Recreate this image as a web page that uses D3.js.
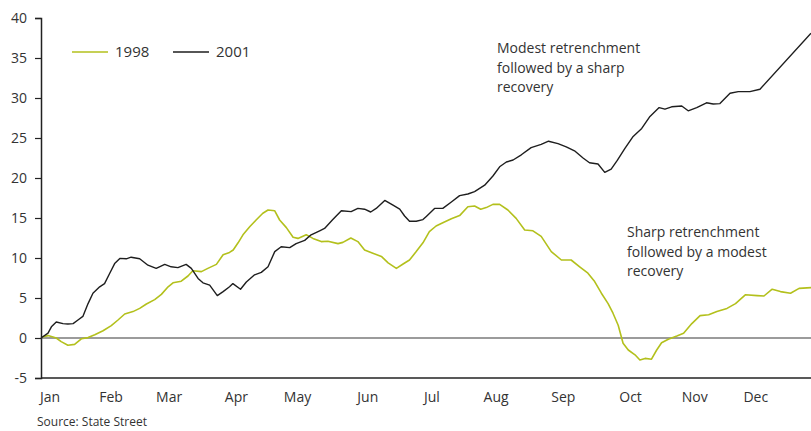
<!DOCTYPE html>
<html>
<head>
<meta charset="utf-8">
<script src="https://cdn.jsdelivr.net/npm/d3@7"></script>
<style>
  html, body { margin: 0; padding: 0; background: #fff; }
  svg { display: block; }
  text { font-family: "Open Sans", "DejaVu Sans", sans-serif; fill: #333; }
</style>
</head>
<body>
<svg id="chart" width="811" height="431"></svg>
<script>
// Cumulative return paths, trading day index within the year
const months = ["Jan", "Feb", "Mar", "Apr", "May", "Jun", "Jul", "Aug", "Sep", "Oct", "Nov", "Dec"];
const monthStartDay = [0, 20, 39, 61, 81, 104, 125, 146, 168, 190, 211, 231];
const yTicks = [-5, 0, 5, 10, 15, 20, 25, 30, 35, 40];

const day1998 = [0, 2.3, 5.0, 6.6, 8.8, 11.0, 13.2, 15.4, 17.6, 20.3, 23.0, 25.2, 27.4, 30.1, 32.3, 34.5,
  37.2, 39.4, 41.6, 43.2, 45.9, 48.1, 49.7, 52.5, 54.6, 57.4, 59.6, 61.7, 62.9, 64.5, 66.1, 68.3, 70.4,
  72.6, 74.3, 76.5, 78.1, 80.3, 82.5, 84.1, 86.8, 89.0, 91.7, 93.9, 97.2, 98.8, 101.4, 103.7, 105.9,
  108.6, 111.4, 113.6, 116.3, 118.5, 120.6, 122.8, 125.0, 127.1, 129.3, 131.5, 134.3, 137.0, 139.7,
  141.9, 143.9, 145.7, 147.9, 150.1, 152.8, 155.5, 158.3, 161.0, 163.7, 167.0, 170.3, 173.5, 176.3,
  179.0, 181.2, 183.4, 185.6, 187.2, 188.9, 190.5, 192.2, 194.4, 196.0, 197.7, 199.8, 201.5, 203.1,
  205.3, 208.1, 210.3, 213.0, 215.7, 218.5, 221.2, 224.5, 227.3, 230.5, 234.4, 236.6, 239.3, 242.0,
  245.3, 248.1, 252];
const value1998 = [0.1, 0.3, 0.0, -0.45, -0.9, -0.8, -0.1, 0.05, 0.4, 0.9, 1.55, 2.25, 3.0, 3.3, 3.7, 4.25,
  4.8, 5.45, 6.4, 6.9, 7.1, 7.75, 8.4, 8.3, 8.7, 9.2, 10.4, 10.7, 11.0, 11.9, 12.9, 13.9, 14.75,
  15.6, 16.0, 15.9, 14.75, 13.8, 12.6, 12.45, 12.9, 12.45, 12.05, 12.1, 11.8, 11.95, 12.5, 12.05, 11.0,
  10.6, 10.2, 9.4, 8.7, 9.25, 9.75, 10.8, 11.9, 13.3, 14.0, 14.4, 14.9, 15.3, 16.4,
  16.5, 16.1, 16.3, 16.7, 16.7, 16.0, 14.95, 13.5, 13.4, 12.7, 10.8, 9.75, 9.75, 8.9,
  8.1, 7.05, 5.6, 4.3, 3.1, 1.6, -0.65, -1.5, -2.1, -2.75, -2.55, -2.65, -1.5, -0.6,
  -0.15, 0.25, 0.6, 1.8, 2.8, 2.9, 3.3, 3.7, 4.3, 5.4, 5.3, 5.25, 6.1, 5.8,
  5.6, 6.2, 6.3];

const day2001 = [0, 2.3, 3.4, 5.0, 7.2, 8.8, 10.5, 12.1, 13.7, 15.4, 17.0, 19.2, 20.8, 22.5, 24.1, 25.8,
  27.9, 29.5, 32.3, 35.0, 37.7, 40.5, 42.6, 44.8, 47.5, 49.2, 51.4, 53.0, 55.2, 57.7, 59.6, 61.7, 62.8,
  65.3, 67.2, 69.9, 72.1, 74.3, 76.5, 78.6, 81.4, 83.5, 86.3, 88.4, 91.2, 92.8, 95.5, 98.3, 101.5,
  103.7, 105.9, 107.9, 109.7, 112.5, 115.2, 117.4, 119.0, 120.6, 122.8, 125.0, 126.1, 128.8, 131.5,
  134.3, 137.0, 139.7, 141.9, 145.2, 147.9, 150.1, 152.3, 154.5, 157.2, 160.4, 163.7, 166.1, 169.2,
  171.9, 174.6, 177.4, 179.5, 182.3, 184.5, 186.6, 188.6, 191.1, 193.8, 196.6, 199.3, 202.3, 204.2,
  206.4, 209.7, 211.8, 214.6, 217.8, 220.0, 222.2, 225.5, 228.2, 232.0, 235.3, 252];
const value2001 = [0, 0.6, 1.4, 2.0, 1.8, 1.75, 1.8, 2.25, 2.7, 4.3, 5.6, 6.4, 6.8, 8.1, 9.3, 9.95,
  9.9, 10.1, 9.9, 9.1, 8.7, 9.2, 8.9, 8.8, 9.2, 8.7, 7.45, 6.9, 6.6, 5.3, 5.8, 6.4, 6.8,
  6.1, 7.0, 7.9, 8.2, 8.9, 10.8, 11.4, 11.3, 11.8, 12.2, 12.9, 13.4, 13.7, 14.8, 15.9, 15.8,
  16.2, 16.1, 15.75, 16.2, 17.2, 16.6, 16.1, 15.25, 14.6, 14.6, 14.8, 15.2, 16.2, 16.2,
  17.0, 17.8, 18.0, 18.3, 19.1, 20.25, 21.4, 22.0, 22.25, 22.9, 23.8, 24.2, 24.6, 24.3,
  23.9, 23.4, 22.5, 21.9, 21.75, 20.7, 21.1, 22.2, 23.7, 25.2, 26.2, 27.7, 28.8, 28.6,
  28.9, 29.0, 28.4, 28.8, 29.4, 29.25, 29.3, 30.6, 30.8, 30.8, 31.1, 38.1];

const seriesNames = ["1998", "2001"];
const seriesColors = ["#b3c01c", "#1e1e1e"];

const svg = d3.select("#chart");
const margin = { top: 18, right: 0, bottom: 53, left: 41 };
const W = 811, H = 431;

const x = d3.scaleLinear().domain([0, 252]).range([margin.left, W - margin.right]);
const y = d3.scaleLinear().domain([-5, 40]).range([H - margin.bottom, margin.top]);

// zero reference line
svg.append("line")
  .attr("x1", x(0)).attr("x2", W)
  .attr("y1", y(0)).attr("y2", y(0))
  .attr("stroke", "#7a7a7a").attr("stroke-width", 1.3);

// lines
const line = d3.line().x(d => x(d[0])).y(d => y(d[1]));
const data1998 = day1998.map((d, i) => [d, value1998[i]]);
const data2001 = day2001.map((d, i) => [d, value2001[i]]);

svg.append("path").datum(data1998)
  .attr("fill", "none").attr("stroke", seriesColors[0]).attr("stroke-width", 1.6)
  .attr("stroke-linejoin", "round").attr("d", line);
svg.append("path").datum(data2001)
  .attr("fill", "none").attr("stroke", seriesColors[1]).attr("stroke-width", 1.4)
  .attr("stroke-linejoin", "round").attr("d", line);

// y axis (plain hyphen for negatives)
const yAxis = d3.axisLeft(y).tickValues(yTicks).tickSize(6).tickPadding(8).tickFormat(d => String(d));
const gy = svg.append("g").attr("transform", `translate(${margin.left},0)`).call(yAxis);
gy.select(".domain").attr("stroke", "#222").attr("stroke-width", 1.5);
gy.selectAll(".tick line").attr("stroke", "#222").attr("stroke-width", 1.2);
gy.selectAll(".tick text").style("font-size", "14px").attr("fill", "#333")
  .style("font-family", "'Open Sans', sans-serif");

// x axis line at the bottom of the plot
svg.append("line")
  .attr("x1", margin.left).attr("x2", W)
  .attr("y1", y(-5)).attr("y2", y(-5))
  .attr("stroke", "#222").attr("stroke-width", 1.5);

// month labels
svg.append("g").selectAll("text").data(months).join("text")
  .attr("x", (d, i) => x(monthStartDay[i]) + 9)
  .attr("y", 402)
  .attr("text-anchor", "middle")
  .style("font-size", "14px")
  .text(d => d);

// legend
const legend = svg.append("g");
const legendX = [72, 173];
seriesNames.forEach((name, i) => {
  legend.append("line")
    .attr("x1", legendX[i]).attr("x2", legendX[i] + 36)
    .attr("y1", 52).attr("y2", 52)
    .attr("stroke", seriesColors[i]).attr("stroke-width", 1.5);
  legend.append("text")
    .attr("x", legendX[i] + 43).attr("y", 57)
    .style("font-size", "15px")
    .text(name);
});

// annotations
const notes = [
  { x: 497, y: 53, lines: ["Modest retrenchment", "followed by a sharp", "recovery"] },
  { x: 627, y: 237, lines: ["Sharp retrenchment", "followed by a modest", "recovery"] }
];
notes.forEach(n => {
  const t = svg.append("text").attr("x", n.x).attr("y", n.y).style("font-size", "14px");
  n.lines.forEach((l, i) => {
    t.append("tspan").attr("x", n.x).attr("dy", i === 0 ? 0 : 19.5).text(l);
  });
});

// source
svg.append("text")
  .attr("x", 37).attr("y", 426)
  .style("font-size", "12px").attr("fill", "#444")
  .text("Source: State Street");
</script>
</body>
</html>
